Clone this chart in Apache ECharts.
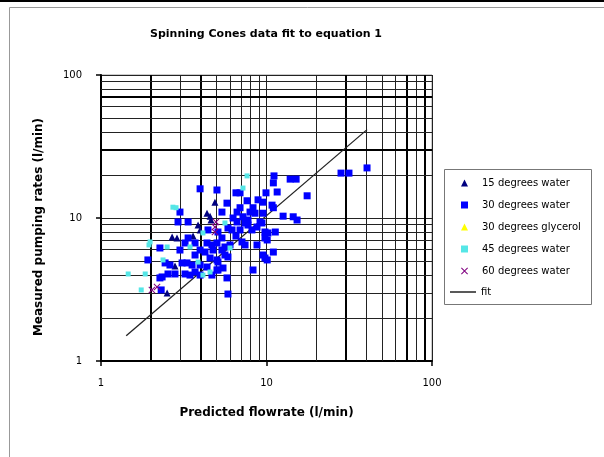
<!DOCTYPE html>
<html>
<head>
<meta charset="utf-8">
<script src="https://cdn.jsdelivr.net/npm/echarts@6/dist/echarts.min.js"></script>
<style>
  html, body { margin: 0; padding: 0; background: #fff; }
  #main { width: 604px; height: 457px; }
</style>
</head>
<body>
<div id="main"></div>
<script>
var myChart = echarts.init(document.getElementById('main'));

// minor grid lines of the log-log paper (2..9 in each decade)
var gridTicks = [2, 3, 4, 5, 6, 7, 8, 9, 20, 30, 40, 50, 60, 70, 80, 90];
// lines that print heavier on the scan
var heavyX = [2, 4, 30, 70, 90];
var heavyY = [30, 70];

var seriesNames = ['15 degrees water', '30 degrees water', '30 degrees glycerol', '45 degrees water', '60 degrees water', 'fit'];

// [predicted, measured] in l/min
var water15 = [
  [4.37, 10.8], [4.56, 10.3], [4.88, 12.9], [3.97, 8.25], [3.86, 8.93], [2.69, 7.36],
  [2.88, 7.25], [2.51, 2.99], [2.80, 4.62], [4.62, 9.68], [3.60, 7.48]
];

var water30 = [
  [28.2, 20.6], [31.5, 20.6], [40.5, 22.4], [11.1, 19.7], [11.0, 17.6], [13.9, 18.7],
  [15.1, 18.7], [11.6, 15.2], [17.6, 14.3], [6.54, 15.0], [6.92, 15.0], [9.93, 15.0],
  [8.89, 13.4], [7.63, 13.2], [9.53, 12.9], [5.77, 12.7], [5.02, 15.7], [3.97, 16.0],
  [10.8, 12.3], [11.0, 11.8], [8.29, 11.8], [6.92, 11.8], [5.38, 11.0], [8.52, 10.8],
  [9.53, 10.8], [12.6, 10.3], [14.5, 10.2], [15.3, 9.68], [6.28, 10.0], [6.64, 9.38],
  [7.42, 9.23], [7.73, 8.93], [9.14, 9.38], [9.39, 9.23], [5.85, 8.51], [6.19, 8.25],
  [6.92, 8.25], [8.17, 8.25], [9.79, 7.98], [10.2, 7.86], [11.3, 7.98], [5.09, 7.98],
  [9.79, 7.25], [10.1, 7.02], [7.11, 6.80], [7.42, 6.48], [6.02, 6.48], [5.61, 6.27],
  [8.76, 6.48], [11.0, 5.78], [5.02, 6.69], [5.38, 5.97], [5.61, 5.51], [5.85, 5.34],
  [9.53, 5.51], [9.79, 5.25], [10.1, 5.09], [5.02, 5.09], [5.09, 4.92], [5.46, 4.47],
  [8.29, 4.33], [5.02, 4.33], [5.77, 3.81], [5.85, 2.94], [3.00, 11.0], [2.92, 9.38],
  [3.36, 9.38], [3.36, 7.25], [3.22, 6.69], [3.70, 6.69], [4.37, 6.69], [4.68, 6.48],
  [3.97, 5.97], [4.25, 5.78], [4.75, 5.97], [2.27, 6.17], [1.92, 5.09], [2.44, 4.85],
  [2.61, 4.69], [3.31, 4.85], [3.55, 4.69], [3.97, 4.69], [4.37, 4.54], [3.70, 4.19],
  [3.97, 3.99], [2.80, 4.06], [3.22, 4.06], [3.45, 3.99], [2.27, 3.81], [2.34, 3.87],
  [4.68, 3.99], [5.09, 4.33], [2.31, 3.14], [2.54, 4.06], [3.09, 4.85], [6.64, 11.0],
  [7.21, 10.2], [7.73, 9.68], [8.76, 8.65], [4.43, 8.25], [5.38, 7.25], [6.54, 7.48],
  [4.56, 5.25], [3.70, 5.51], [3.00, 5.97], [7.95, 11.0]
];

var glycerol30 = [];

var water45 = [
  [7.63, 19.7], [7.21, 16.2], [2.72, 11.9], [2.84, 11.8], [1.98, 6.80], [1.95, 6.48],
  [2.51, 6.27], [2.37, 5.09], [1.46, 4.06], [1.85, 4.06], [1.75, 3.14], [4.13, 7.86],
  [5.61, 9.23], [4.56, 4.19], [4.13, 3.99], [3.45, 6.27], [3.86, 4.92], [6.02, 6.17]
];

var water60 = [
  [2.03, 3.14], [2.18, 3.29], [4.95, 9.38], [4.88, 7.98], [4.88, 8.65]
];

var fitLine = [[1.42, 1.5], [40.5, 41.5]];

var font = 'DejaVu Sans, sans-serif';
var crossPath = 'path://M0,1L1,0L5,4L9,0L10,1L6,5L10,9L9,10L5,6L1,10L0,9L4,5Z';

function logAxis(name, gap, labelMargin, namePad) {
  return {
    type: 'log',
    logBase: 10,
    min: 1,
    max: 100,
    name: name,
    nameLocation: 'middle',
    nameGap: gap,
    nameTextStyle: { color: '#000', fontSize: 12, fontWeight: 'bold', fontFamily: font, padding: namePad },
    axisLine: { show: true, lineStyle: { color: '#000', width: 2 } },
    axisTick: { show: true, length: 5, lineStyle: { color: '#000', width: 1.5 } },
    axisLabel: { color: '#000', fontSize: 10, fontFamily: font, margin: labelMargin },
    splitLine: { show: true, lineStyle: { color: '#222', width: 1 } }
  };
}

function gridLine(key, v, heavy) {
  var item = {};
  item[key] = v;
  if (heavy.indexOf(v) >= 0) item.lineStyle = { width: 2, color: '#000' };
  return item;
}

option = {
  backgroundColor: '#fff',
  animation: false,
  title: {
    text: 'Spinning Cones data fit to equation 1',
    left: 145,
    top: 24,
    textStyle: { color: '#000', fontSize: 11, fontWeight: 'bold', fontFamily: font }
  },
  graphic: [
    { type: 'rect', left: 0, top: 0, shape: { width: 604, height: 2 }, style: { fill: '#000' } },
    { type: 'rect', left: 7, top: 5, shape: { width: 620, height: 450 }, style: { fill: 'none', stroke: '#999', lineWidth: 1 } },
    { type: 'rect', left: 442, top: 167, shape: { width: 147, height: 135 }, style: { fill: 'none', stroke: '#777', lineWidth: 1 } }
  ],
  grid: {
    left: 101,
    right: 172,
    top: 75,
    bottom: 96,
    show: true,
    borderColor: '#999',
    borderWidth: 1
  },
  legend: [{
    orient: 'vertical',
    left: 461,
    top: 178,
    padding: 0,
    itemGap: 12,
    itemWidth: 7,
    itemHeight: 7,
    data: seriesNames.slice(0, 5),
    textStyle: { color: '#000', fontSize: 10, fontFamily: font, padding: [0, 0, 0, 9] }
  }, {
    left: 450,
    top: 287,
    padding: 0,
    itemWidth: 26,
    itemHeight: 1.5,
    icon: 'rect',
    data: seriesNames.slice(5),
    textStyle: { color: '#000', fontSize: 10, fontFamily: font }
  }],
  xAxis: logAxis('Predicted flowrate (l/min)', 46, 17, 0),
  yAxis: logAxis('Measured pumping rates (l/min)', 56, 19, [0, 18, 0, 0]),
  series: [{
      name: seriesNames[5],
      type: 'line',
      data: fitLine,
      symbol: 'none',
      z: 3,
      lineStyle: { color: '#222', width: 1.3 },
      itemStyle: { color: '#222' },
      markLine: {
        silent: true,
        z: 1,
        symbol: ['none', 'none'],
        label: { show: false },
        lineStyle: { color: '#222', width: 1, type: 'solid' },
        emphasis: { disabled: true },
        data: gridTicks.map(function (v) { return gridLine('xAxis', v, heavyX); })
          .concat(gridTicks.map(function (v) { return gridLine('yAxis', v, heavyY); }))
      }
    }, {
      name: seriesNames[0],
      type: 'scatter',
      data: water15,
      symbol: 'triangle',
      symbolSize: 7,
      z: 4,
      itemStyle: { color: '#000080', opacity: 1 }
    }, {
      name: seriesNames[1],
      type: 'scatter',
      data: water30,
      symbol: 'rect',
      symbolSize: 7,
      z: 4,
      itemStyle: { color: '#0000ff', opacity: 1 }
    }, {
      name: seriesNames[2],
      type: 'scatter',
      data: glycerol30,
      symbol: 'triangle',
      symbolSize: 6,
      z: 4,
      itemStyle: { color: '#ffff00', opacity: 1 }
    }, {
      name: seriesNames[3],
      type: 'scatter',
      data: water45,
      symbol: 'rect',
      symbolSize: 5,
      z: 4,
      itemStyle: { color: '#55e6e6', opacity: 1 }
    }, {
      name: seriesNames[4],
      type: 'scatter',
      data: water60,
      symbol: crossPath,
      symbolSize: 7,
      z: 5,
      itemStyle: { color: '#800080', opacity: 1 }
    }
  ]
};

myChart.setOption(option);
</script>
</body>
</html>
